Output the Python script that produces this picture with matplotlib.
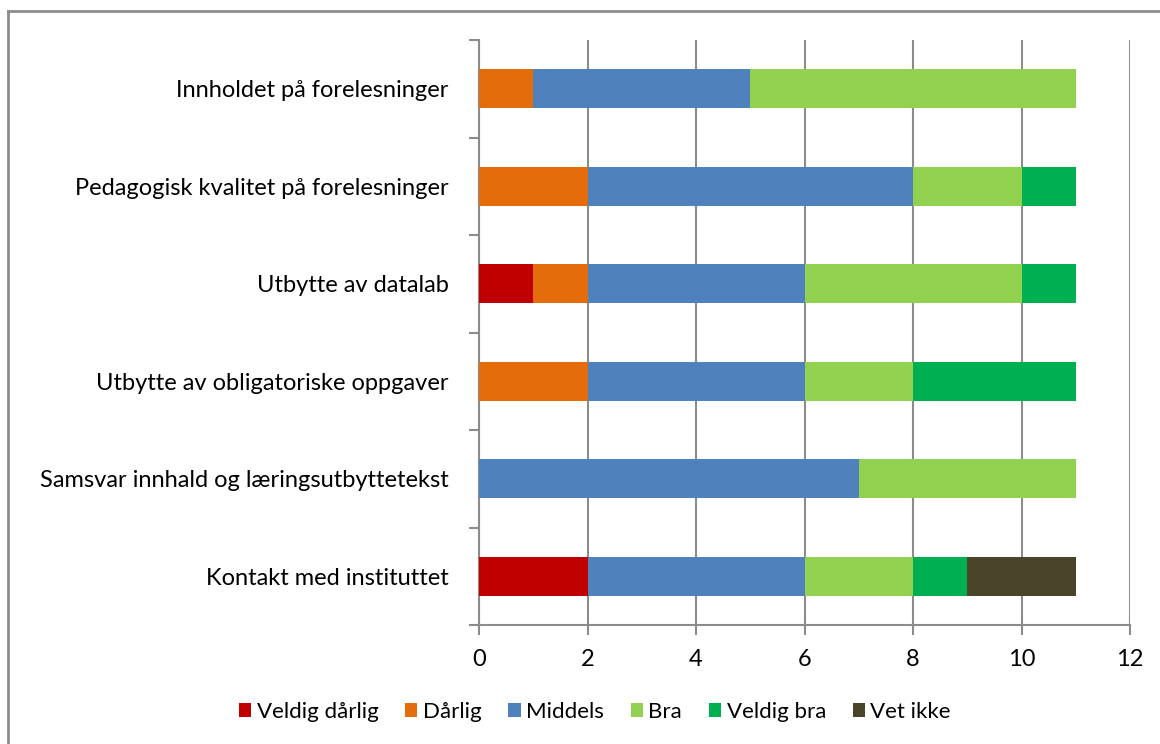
import matplotlib.pyplot as plt
from matplotlib.lines import Line2D
import numpy as np

plt.rcParams["font.family"] = ["Lato", "DejaVu Sans"]

# --- data ---
categories = [
    "Innholdet på forelesninger",
    "Pedagogisk kvalitet på forelesninger",
    "Utbytte av datalab",
    "Utbytte av obligatoriske oppgaver",
    "Samsvar innhald og læringsutbyttetekst",
    "Kontakt med instituttet",
]
series_names = ["Veldig dårlig", "Dårlig", "Middels", "Bra", "Veldig bra", "Vet ikke"]
veldig_darlig = [0, 0, 1, 0, 0, 2]
darlig = [1, 2, 1, 2, 0, 0]
middels = [4, 6, 4, 4, 7, 4]
bra = [6, 2, 4, 2, 4, 2]
veldig_bra = [0, 1, 1, 3, 0, 1]
vet_ikke = [0, 0, 0, 0, 0, 2]
colors = ["#C00000", "#E46C0A", "#4F81BD", "#92D050", "#00B050", "#4A452A"]
x_ticks = [0, 2, 4, 6, 8, 10, 12]

series = [veldig_darlig, darlig, middels, bra, veldig_bra, vet_ikke]

# --- plot ---
W, H = 1160, 744
fig = plt.figure(figsize=(W / 100, H / 100), dpi=100)
# chart frame: only top and left edges fall inside the image
fig.add_artist(Line2D([8 / W, 1], [1 - 11 / H, 1 - 11 / H], transform=fig.transFigure,
                      color="#8c8c8c", linewidth=2))
fig.add_artist(Line2D([8 / W, 8 / W], [0, 1 - 11 / H], transform=fig.transFigure,
                      color="#8c8c8c", linewidth=2))
ax = fig.add_axes([479 / W, 1 - 625 / H, 651 / W, 585 / H])

y = np.arange(len(categories))[::-1]
left = np.zeros(len(categories))
for name, vals, c in zip(series_names, series, colors):
    ax.barh(y, vals, left=left, height=0.4, color=c, label=name, zorder=3)
    left += np.array(vals)

ax.set_xlim(0, 12)
ax.set_ylim(-0.5, len(categories) - 0.5)
ax.set_xticks(x_ticks)
ax.set_yticks(y)
ax.set_yticklabels(categories, fontsize=17)
ax.tick_params(axis="y", length=0, pad=22)
ax.set_yticks(np.arange(-0.5, len(categories)), minor=True)
ax.tick_params(axis="y", which="minor", length=7, width=1.5, color="#8c8c8c")
ax.tick_params(axis="x", length=7, width=1.5, color="#8c8c8c", labelsize=17, pad=10)
ax.grid(axis="x", color="#8c8c8c", linewidth=1.5, zorder=0)

for side in ["top", "right"]:
    ax.spines[side].set_visible(False)
for side in ["left", "bottom"]:
    ax.spines[side].set_color("#8c8c8c")
    ax.spines[side].set_linewidth(1.5)

fig.legend(loc="center", bbox_to_anchor=(595 / W, 1 - 712 / H), ncol=6, frameon=False,
           fontsize=16, handlelength=0.55, handleheight=0.55, handletextpad=0.25,
           columnspacing=1.2)

fig.savefig("out.png", dpi=100)
